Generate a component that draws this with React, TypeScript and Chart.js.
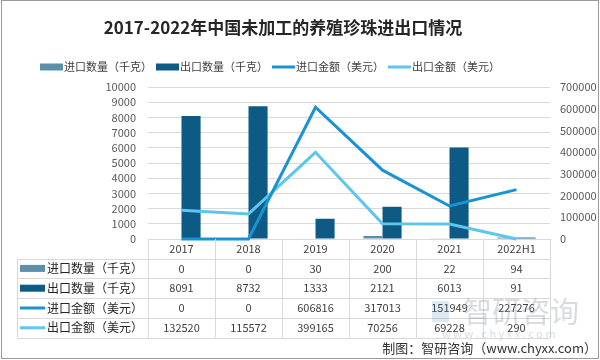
import React, { useEffect, useRef } from "react";
import { Chart, registerables } from "chart.js";

Chart.register(...registerables);

const TITLE = "2017-2022年中国未加工的养殖珍珠进出口情况";
const SOURCE = "制图：智研咨询（www.chyxx.com）";
const WATERMARK = "智研咨询";
const WATERMARK_URL = "w w w . c h y x x . c o m";

const categories = ["2017", "2018", "2019", "2020", "2021", "2022H1"];
const seriesLabels = ["进口数量（千克）", "出口数量（千克）", "进口金额（美元）", "出口金额（美元）"];
const importQty = [0, 0, 30, 200, 22, 94];
const exportQty = [8091, 8732, 1333, 2121, 6013, 91];
const importAmt = [0, 0, 606816, 317013, 151949, 227276];
const exportAmt = [132520, 115572, 399165, 70256, 69228, 290];

const leftMax = 10000;
const leftStep = 1000;
const rightMax = 700000;
const rightStep = 100000;

const COLORS = ["#5e8faa", "#0d5b84", "#1a93d2", "#5dc5ee"];
const FONT = '"Noto Sans CJK SC", "Noto Sans", sans-serif';

const decor = {
  id: "decor",
  beforeDraw(chart: any) {
    const ctx = chart.ctx;
    ctx.save();
    ctx.fillStyle = "#ffffff";
    ctx.fillRect(0, 0, chart.width, chart.height);
    ctx.restore();
  },
  afterDraw(chart: any) {
    const { ctx, chartArea } = chart;
    const xs = chart.scales.x;
    const ds = chart.data.datasets;
    ctx.save();

    // Title
    ctx.fillStyle = "#262626";
    ctx.font = `bold 17px ${FONT}`;
    ctx.textAlign = "center";
    ctx.textBaseline = "middle";
    ctx.fillText(TITLE, 283, 28);

    const drawSymbol = (i: number, x: number, y: number, w: number) => {
      const d = ds[i];
      if (d.type === "bar") {
        ctx.fillStyle = d.backgroundColor;
        ctx.fillRect(x, y - 3.5, w, 7);
      } else {
        ctx.strokeStyle = d.borderColor;
        ctx.lineWidth = 3;
        ctx.beginPath();
        ctx.moveTo(x, y);
        ctx.lineTo(x + w, y);
        ctx.stroke();
      }
    };

    // Legend
    ctx.font = `11px ${FONT}`;
    ctx.textAlign = "left";
    ctx.textBaseline = "middle";
    const legendY = 67;
    let lx = 40;
    for (let i = 0; i < ds.length; i++) {
      drawSymbol(i, lx, legendY, 23);
      ctx.fillStyle = "#404040";
      ctx.fillText(ds[i].label, lx + 24, legendY);
      lx += 116;
    }

    // Table
    const n = categories.length;
    const colW = xs.getPixelForValue(1) - xs.getPixelForValue(0);
    const left0 = xs.getPixelForValue(0) - colW / 2;
    const right = xs.getPixelForValue(n - 1) + colW / 2;
    const headTop = chartArea.bottom;
    const headBottom = headTop + 19.5;
    const rowH = 19.8;
    const tableLeft = 17;
    const tableBottom = headBottom + ds.length * rowH;

    ctx.strokeStyle = "#d9d9d9";
    ctx.lineWidth = 1;
    const r = (v: number) => Math.round(v) + 0.5;
    ctx.beginPath();
    for (let k = 0; k <= ds.length; k++) {
      const y = r(headBottom + k * rowH);
      ctx.moveTo(tableLeft, y);
      ctx.lineTo(right, y);
    }
    for (let i = 0; i <= n; i++) {
      const x = r(left0 + i * colW);
      ctx.moveTo(x, headTop);
      ctx.lineTo(x, tableBottom);
    }
    ctx.moveTo(r(tableLeft), headBottom);
    ctx.lineTo(r(tableLeft), tableBottom);
    ctx.stroke();

    ctx.font = `11px ${FONT}`;
    ctx.textBaseline = "middle";
    ctx.textAlign = "center";
    ctx.fillStyle = "#404040";
    for (let i = 0; i < n; i++) {
      ctx.fillText(categories[i], xs.getPixelForValue(i), (headTop + headBottom) / 2);
    }
    for (let k = 0; k < ds.length; k++) {
      const cy = headBottom + k * rowH + rowH / 2;
      drawSymbol(k, 20, cy, 25);
      ctx.textAlign = "left";
      ctx.fillStyle = "#262626";
      ctx.font = `12px ${FONT}`;
      ctx.fillText(ds[k].label, 47, cy);
      ctx.textAlign = "center";
      ctx.fillStyle = "#404040";
      ctx.font = `11px ${FONT}`;
      for (let i = 0; i < n; i++) {
        ctx.fillText(String(ds[k].data[i]), xs.getPixelForValue(i), cy);
      }
    }

    // Watermark
    ctx.globalAlpha = 0.18;
    ctx.fillStyle = "#4f86b8";
    ctx.fillRect(432, 301, 17, 21);
    ctx.globalAlpha = 0.3;
    ctx.fillStyle = "#7d8c99";
    ctx.font = `29px ${FONT}`;
    ctx.textAlign = "left";
    ctx.fillText(WATERMARK, 463, 312);
    ctx.font = `11px ${FONT}`;
    ctx.fillText(WATERMARK_URL, 442, 334);
    ctx.globalAlpha = 1;

    // Source
    ctx.fillStyle = "#333333";
    ctx.font = `13px ${FONT}`;
    ctx.textAlign = "right";
    ctx.fillText(SOURCE, 597, 348);

    // Frame
    ctx.strokeStyle = "#9a9a9a";
    ctx.lineWidth = 1;
    ctx.strokeRect(1.5, 0.5, 597, 358);

    ctx.restore();
  },
};

export default function App() {
  const ref = useRef<HTMLCanvasElement>(null);

  useEffect(() => {
    document.body.style.margin = "0";
    const canvas = ref.current!;
    const chart = new Chart(canvas, {
      type: "bar",
      data: {
        labels: categories,
        datasets: [
          {
            type: "bar",
            label: seriesLabels[0],
            data: importQty,
            backgroundColor: COLORS[0],
            yAxisID: "y",
            order: 1,
            categoryPercentage: 0.57,
            barPercentage: 1,
          },
          {
            type: "bar",
            label: seriesLabels[1],
            data: exportQty,
            backgroundColor: COLORS[1],
            yAxisID: "y",
            order: 1,
            categoryPercentage: 0.57,
            barPercentage: 1,
          },
          {
            type: "line",
            label: seriesLabels[2],
            data: importAmt,
            borderColor: COLORS[2],
            backgroundColor: COLORS[2],
            borderWidth: 3,
            pointRadius: 0,
            tension: 0,
            yAxisID: "y1",
            order: 0,
            clip: false,
          },
          {
            type: "line",
            label: seriesLabels[3],
            data: exportAmt,
            borderColor: COLORS[3],
            backgroundColor: COLORS[3],
            borderWidth: 3,
            pointRadius: 0,
            tension: 0,
            yAxisID: "y1",
            order: 0,
            clip: false,
          },
        ] as any,
      },
      options: {
        responsive: false,
        animation: false,
        devicePixelRatio: 1,
        layout: { padding: { left: 0, right: 0, top: 87, bottom: 121 } },
        plugins: {
          legend: { display: false },
          title: { display: false },
          tooltip: { enabled: false },
        },
        scales: {
          x: {
            type: "category",
            offset: true,
            display: false,
          },
          y: {
            position: "left",
            min: 0,
            max: leftMax,
            ticks: {
              stepSize: leftStep,
              autoSkip: false,
              padding: 12,
              color: "#595959",
              font: { family: FONT, size: 11 },
              callback: (v: any) => String(v),
            },
            grid: { color: "#d9d9d9", drawTicks: false },
            border: { display: false },
            afterFit: (s: any) => {
              s.width = 148;
            },
          },
          y1: {
            position: "right",
            min: 0,
            max: rightMax,
            ticks: {
              stepSize: rightStep,
              autoSkip: false,
              padding: 10,
              color: "#595959",
              font: { family: FONT, size: 11 },
              callback: (v: any) => String(v),
            },
            grid: { display: false, drawTicks: false },
            border: { display: false },
            afterFit: (s: any) => {
              s.width = 50;
            },
          },
        },
      } as any,
      plugins: [decor],
    });
    return () => chart.destroy();
  }, []);

  return (
    <div style={{ width: 600, height: 360, background: "#fff" }}>
      <canvas ref={ref} width={600} height={360} />
    </div>
  );
}
